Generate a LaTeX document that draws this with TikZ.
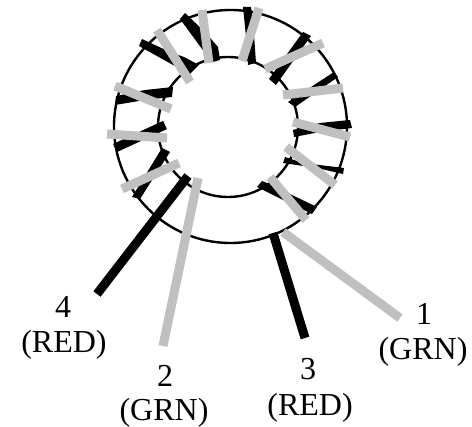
\documentclass[tikz,border=0pt]{standalone}
\usepackage{fontspec}
\setmainfont{Liberation Serif}
\definecolor{wiregray}{RGB}{192,192,192}
\tikzset{
  core/.style={draw=black,line width=2.4pt,fill=none},
  grayturn/.style={draw=wiregray,line width=9pt},
  blackturn/.style={fill=black,draw=none},
  blacklead/.style={draw=black,line width=9pt},
  graylead/.style={draw=wiregray,line width=9pt},
  lab/.style={font=\fontsize{32}{36}\selectfont,inner sep=0pt,align=center}
}
\begin{document}
\begin{tikzpicture}[x=1pt,y=-1pt]
\useasboundingbox (0,0) rectangle (472,427);
\fill[white] (0,0) rectangle (472,427);
% core
\draw[core] (230.5,126.5) circle[radius=116.5];
\draw[core] (228,127) circle[radius=70];
% leads
\draw[blacklead] (188,176) -- (97,294);
\draw[graylead] (198,178) -- (163,346);
\draw[blacklead] (273,233) -- (305,338);
\draw[graylead] (283,232) -- (400,318);
% black turns
\fill[blackturn] (116,96) -- (145,90) -- (173,87) -- (172,97) -- (145,100) -- (115,105) -- cycle;
\fill[blackturn] (142,39) -- (139,46) -- (173,65) -- (190,74) -- (199,65) -- (184,57) -- (170,52) -- cycle;
\fill[blackturn] (185,13) -- (180,19) -- (205,53) -- (213,62) -- (220,60) -- (218,47) -- (205,32) -- cycle;
\fill[blackturn] (243,7) -- (251,7) -- (253,20) -- (256,63) -- (248,65) -- (246,37) -- cycle;
\fill[blackturn] (303,32) -- (311,36) -- (276,85) -- (269,79) -- cycle;
\fill[blackturn] (334,72) -- (338,77) -- (295,107) -- (288,102) -- cycle;
\fill[blackturn] (293,130) -- (294,137) -- (320,132) -- (352,128) -- (350,120) -- (320,123) -- cycle;
\fill[blackturn] (285,157) -- (283,163) -- (317,168) -- (343,174) -- (344,168) -- (303,163) -- cycle;
\fill[blackturn] (262,181) -- (257,187) -- (277,197) -- (312,214) -- (317,207) -- (292,195) -- (277,187) -- cycle;
\draw[blacklead] (165,125) -- (115,148);
\fill[blackturn] (162,148) -- (170,152) -- (140,199) -- (132,197) -- cycle;
% gray turns
\draw[grayturn] (115,86) -- (171,109);
\draw[grayturn] (157,30) -- (190,82);
\draw[grayturn] (202,10) -- (209,63);
\draw[grayturn] (259,8) -- (242,61);
\draw[grayturn] (323,43) -- (265,69);
\draw[grayturn] (343,88) -- (283,95);
\draw[grayturn] (293,122) -- (350,137);
\draw[grayturn] (286,147) -- (335,185);
\draw[grayturn] (270,177) -- (306,220);
\draw[grayturn] (107,134) -- (167,138);
\draw[grayturn] (179,163) -- (122,189);
% labels
\node[lab] (n4) at (63,307) {4};
\node[lab] (r4) at (64,345) {(RED)};
\node[lab] (n2) at (165,376) {2};
\node[lab] (g2) at (164,413) {(GRN)};
\node[lab] (n3) at (308,369) {3};
\node[lab] (r3) at (310,408) {(RED)};
\node[lab] (n1) at (424,314) {1};
\node[lab] (g1) at (423,352) {(GRN)};
\end{tikzpicture}
\end{document}
